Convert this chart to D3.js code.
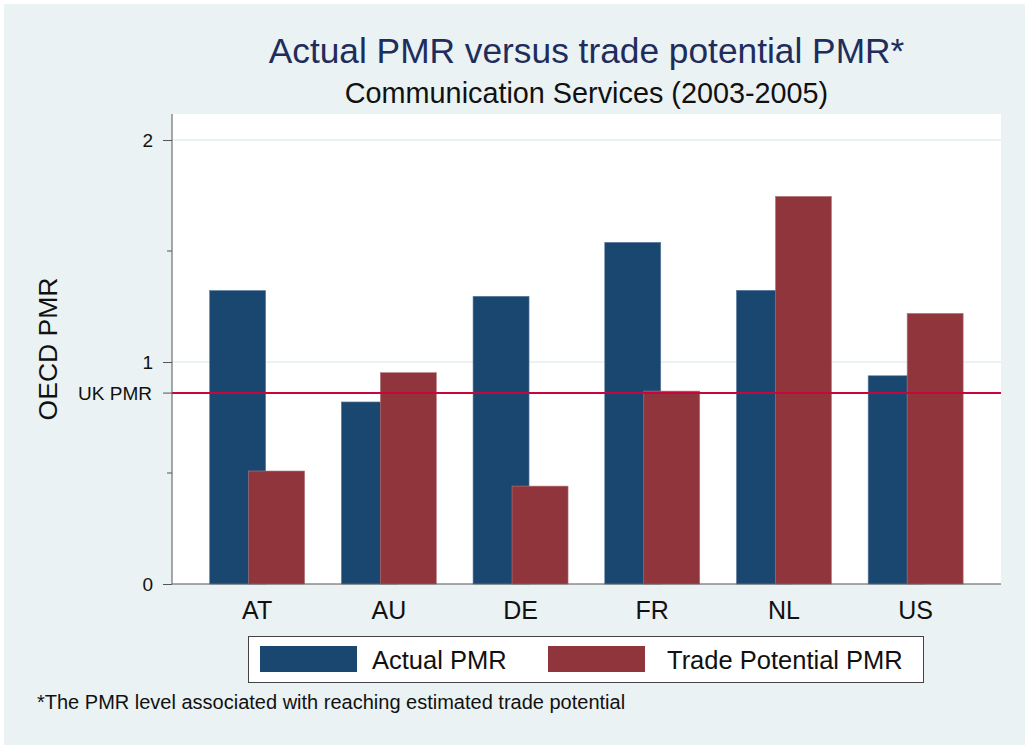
<!DOCTYPE html>
<html>
<head>
<meta charset="utf-8">
<script src="https://cdn.jsdelivr.net/npm/d3@7"></script>
<style>
  body { margin: 0; background: #ffffff; }
  text { font-family: "Liberation Sans", Arial, sans-serif; }
</style>
</head>
<body>
<div id="chart"></div>
<script>
// chart data
var countries = ['AT', 'AU', 'DE', 'FR', 'NL', 'US'];
var actualPMR = [1.322, 0.820, 1.296, 1.539, 1.323, 0.938];
var tradePotentialPMR = [0.509, 0.952, 0.441, 0.869, 1.746, 1.219];
var ukPMR = 0.860;
var yTicks = [0, 1, 2];
var yMinorTicks = [0.5, 1.5];
var seriesNames = ['Actual PMR', 'Trade Potential PMR'];

var width = 1025, height = 745;
var colors = { actual: '#1a476f', trade: '#90353b', bg: '#eaf2f3', uk: '#c8063e' };
var plot = { left: 172, right: 1001, top: 114, bottom: 584 };

var svg = d3.select('#chart').append('svg')
    .attr('width', width)
    .attr('height', height);

svg.append('rect')
    .attr('x', 4).attr('y', 4)
    .attr('width', width - 4).attr('height', height - 4)
    .attr('fill', colors.bg);

svg.append('rect')
    .attr('x', plot.left).attr('y', plot.top)
    .attr('width', plot.right - plot.left).attr('height', plot.bottom - plot.top)
    .attr('fill', '#ffffff');

var y = d3.scaleLinear()
    .domain([0, 2])
    .range([plot.bottom, 140]);

// groups spaced evenly, bars overlap inside a group
var x = d3.scaleBand()
    .domain(countries)
    .range([191.3, 981.5])
    .paddingInner(0)
    .paddingOuter(0);

var barWidth = 56, barShift = 39;
var groupStart = function(c) { return x(c) + x.bandwidth() / 2 - (barWidth + barShift) / 2; };

// gridlines
svg.append('g').selectAll('line')
    .data(yTicks.filter(function(d) { return d > 0; }))
    .enter().append('line')
    .attr('x1', plot.left).attr('x2', plot.right)
    .attr('y1', function(d) { return y(d); })
    .attr('y2', function(d) { return y(d); })
    .attr('stroke', colors.bg)
    .attr('stroke-width', 2);

// bars
var groups = svg.append('g').selectAll('g')
    .data(countries)
    .enter().append('g');

groups.append('rect')
    .attr('x', function(d) { return groupStart(d); })
    .attr('y', function(d, i) { return y(actualPMR[i]); })
    .attr('width', barWidth)
    .attr('height', function(d, i) { return y(0) - y(actualPMR[i]); })
    .attr('fill', colors.actual)
    .attr('stroke', '#5f7fa0')
    .attr('stroke-width', 0.6);

groups.append('rect')
    .attr('x', function(d) { return groupStart(d) + barShift; })
    .attr('y', function(d, i) { return y(tradePotentialPMR[i]); })
    .attr('width', barWidth)
    .attr('height', function(d, i) { return y(0) - y(tradePotentialPMR[i]); })
    .attr('fill', colors.trade)
    .attr('stroke', '#b27a7e')
    .attr('stroke-width', 0.6);

// UK PMR reference line
svg.append('line')
    .attr('x1', plot.left).attr('x2', plot.right)
    .attr('y1', y(ukPMR)).attr('y2', y(ukPMR))
    .attr('stroke', colors.uk)
    .attr('stroke-width', 2);

// y axis
var yAxis = d3.axisLeft(y).tickValues(yTicks).tickSize(9).tickPadding(10).tickFormat(d3.format('d'));
var yg = svg.append('g')
    .attr('transform', 'translate(' + plot.left + ',0)')
    .call(yAxis);
yg.select('.domain').attr('stroke', '#555555').attr('d', 'M0,' + plot.top + 'V' + plot.bottom);
yg.selectAll('.tick line').attr('stroke', '#555555');
yg.selectAll('.tick text').attr('font-size', 19).attr('fill', '#111111')
    .attr('font-family', '"Liberation Sans", Arial, sans-serif');

svg.append('g').selectAll('line')
    .data(yMinorTicks)
    .enter().append('line')
    .attr('x1', plot.left - 5).attr('x2', plot.left)
    .attr('y1', function(d) { return y(d); })
    .attr('y2', function(d) { return y(d); })
    .attr('stroke', '#555555');

svg.append('line')
    .attr('x1', plot.left - 9).attr('x2', plot.left)
    .attr('y1', y(ukPMR)).attr('y2', y(ukPMR))
    .attr('stroke', '#555555');

svg.append('text')
    .attr('x', 152).attr('y', y(ukPMR))
    .attr('dy', '0.35em')
    .attr('text-anchor', 'end')
    .attr('font-size', 19)
    .attr('fill', '#111111')
    .text('UK PMR');

// x axis
svg.append('line')
    .attr('x1', plot.left).attr('x2', plot.right)
    .attr('y1', plot.bottom).attr('y2', plot.bottom)
    .attr('stroke', '#555555');

svg.append('g').selectAll('text')
    .data(countries)
    .enter().append('text')
    .attr('x', function(d) { return x(d) + x.bandwidth() / 2; })
    .attr('y', 619)
    .attr('text-anchor', 'middle')
    .attr('font-size', 25)
    .attr('fill', '#111111')
    .text(function(d) { return d; });

// axis title
svg.append('text')
    .attr('transform', 'translate(57,349) rotate(-90)')
    .attr('text-anchor', 'middle')
    .attr('font-size', 26.5)
    .attr('fill', '#111111')
    .text('OECD PMR');

// titles
svg.append('text')
    .attr('x', (plot.left + plot.right) / 2).attr('y', 63)
    .attr('text-anchor', 'middle')
    .attr('font-size', 35.3)
    .attr('fill', '#1e2d5c')
    .text('Actual PMR versus trade potential PMR*');

svg.append('text')
    .attr('x', (plot.left + plot.right) / 2).attr('y', 103)
    .attr('text-anchor', 'middle')
    .attr('font-size', 28.8)
    .attr('fill', '#111111')
    .text('Communication Services (2003-2005)');

// legend
var legend = svg.append('g');
legend.append('rect')
    .attr('x', 248.5).attr('y', 636.5)
    .attr('width', 675).attr('height', 46)
    .attr('fill', '#ffffff')
    .attr('stroke', '#444444');

var legendItems = [
    { name: seriesNames[0], fill: colors.actual, sx: 260, tx: 372 },
    { name: seriesNames[1], fill: colors.trade, sx: 548, tx: 667 }
];
legend.selectAll('rect.sw')
    .data(legendItems)
    .enter().append('rect')
    .attr('class', 'sw')
    .attr('x', function(d) { return d.sx; })
    .attr('y', 646)
    .attr('width', 97).attr('height', 26)
    .attr('fill', function(d) { return d.fill; });
legend.selectAll('text')
    .data(legendItems)
    .enter().append('text')
    .attr('x', function(d) { return d.tx; })
    .attr('y', 669)
    .attr('font-size', 25.5)
    .attr('fill', '#111111')
    .text(function(d) { return d.name; });

// footnote
svg.append('text')
    .attr('x', 37).attr('y', 709)
    .attr('font-size', 20)
    .attr('fill', '#111111')
    .text('*The PMR level associated with reaching estimated trade potential');
</script>
</body>
</html>
